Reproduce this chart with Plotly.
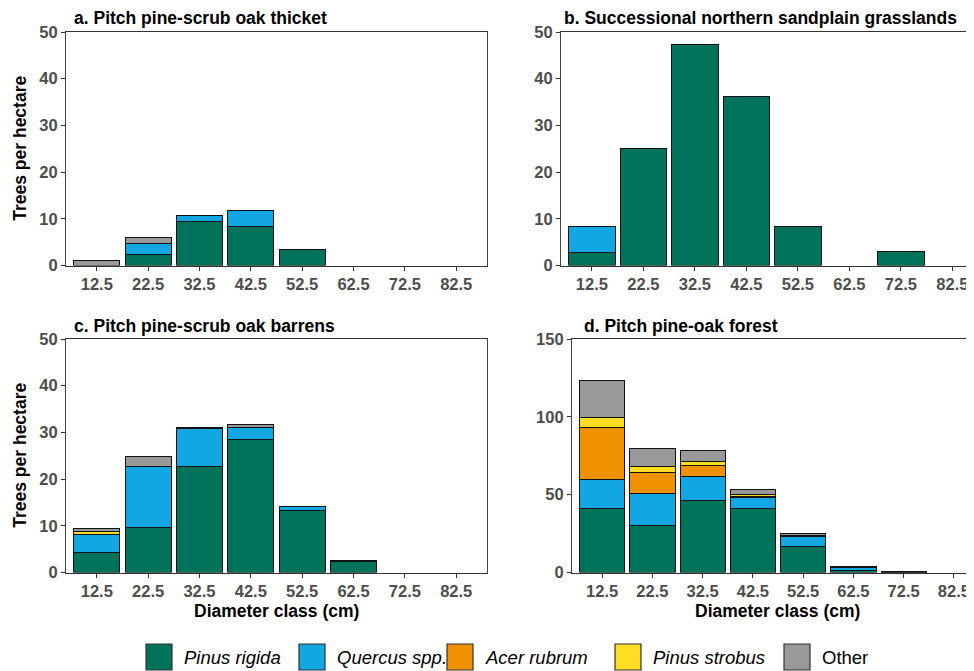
import plotly.graph_objects as go

# ---------------- data ----------------
diameter_classes = ["12.5", "22.5", "32.5", "42.5", "52.5", "62.5", "72.5", "82.5"]
species = ["Pinus rigida", "Quercus spp.", "Acer rubrum", "Pinus strobus", "Other"]
species_labels = ["<i>Pinus rigida</i>", "<i>Quercus spp.</i>", "<i>Acer rubrum</i>",
                  "<i>Pinus strobus</i>", "Other"]
species_colors = ["#00735A", "#12A6E2", "#F09100", "#FFDD22", "#999999"]

panel_titles = ["a. Pitch pine-scrub oak thicket",
                "b. Successional northern sandplain grasslands",
                "c. Pitch pine-scrub oak barrens",
                "d. Pitch pine-oak forest"]

# panel a
a_pinus_rigida = [None, 2.3, 9.5, 8.3, 3.5, None, None, None]
a_quercus = [None, 2.4, 1.2, 3.5, None, None, None, None]
a_acer = [None] * 8
a_strobus = [None] * 8
a_other = [1.0, 1.2, None, None, None, None, None, None]

# panel b
b_pinus_rigida = [2.8, 25.0, 47.3, 36.2, 8.4, None, 2.9, None]
b_quercus = [5.6, None, None, None, None, None, None, None]
b_acer = [None] * 8
b_strobus = [None] * 8
b_other = [None] * 8

# panel c
c_pinus_rigida = [4.2, 9.6, 22.8, 28.4, 13.3, 2.4, None, None]
c_quercus = [4.0, 13.1, 8.0, 2.6, 0.8, 0.2, None, None]
c_acer = [None] * 8
c_strobus = [0.6, None, None, None, None, None, None, None]
c_other = [0.7, 2.1, 0.3, 0.6, None, None, None, None]

# panel d
d_pinus_rigida = [41.2, 30.5, 46.1, 41.2, 16.7, 1.3, 0.3, None]
d_quercus = [18.7, 20.4, 15.7, 6.8, 6.5, 1.7, None, None]
d_acer = [33.2, 13.5, 7.1, 1.1, 0.5, None, None, None]
d_strobus = [6.7, 4.0, 2.6, 0.9, 0.3, None, None, None]
d_other = [23.6, 11.0, 6.8, 3.4, 0.9, 1.0, 0.4, None]

panels = [
    [a_pinus_rigida, a_quercus, a_acer, a_strobus, a_other],
    [b_pinus_rigida, b_quercus, b_acer, b_strobus, b_other],
    [c_pinus_rigida, c_quercus, c_acer, c_strobus, c_other],
    [d_pinus_rigida, d_quercus, d_acer, d_strobus, d_other],
]
y_max = [50, 50, 50, 150]
y_ticks = [[0, 10, 20, 30, 40, 50]] * 3 + [[0, 50, 100, 150]]

# ---------------- figure ----------------
PAGE_W, PAGE_H = 974, 671
OFF = 8  # default page body margin
W, H = PAGE_W - OFF, PAGE_H - OFF
FONT = "Liberation Sans, Arial, sans-serif"
x_idx = list(range(len(diameter_classes)))


def px(x):
    return (x - OFF) / W


def py(y):
    return 1 - (y - OFF) / H


fig = go.Figure()

# panel geometry in page pixels: (left, right, top, bottom, x_range_end)
geom = [
    (66, 487, 32, 265.5, 7.6),
    (561, 974, 32, 265.5, 7.42),
    (66, 487, 339, 572.5, 7.6),
    (572, 974, 339, 572.5, 7.40),
]

for p, series in enumerate(panels):
    xa = "x" if p == 0 else f"x{p+1}"
    ya = "y" if p == 0 else f"y{p+1}"
    for s, vals in enumerate(series):
        if all(v is None for v in vals):
            continue
        fig.add_trace(go.Bar(
            x=x_idx, y=vals, name=species[s], xaxis=xa, yaxis=ya,
            marker=dict(color=species_colors[s], line=dict(color="#111111", width=1)),
            showlegend=False,
        ))

TICKFONT = dict(family=FONT, size=16.5, color="#4D4D4D", weight="bold")
layout = dict(
    width=W, height=H, barmode="stack", bargap=0.1,
    margin=dict(l=0, r=0, t=0, b=0, autoexpand=False),
    paper_bgcolor="white", plot_bgcolor="white",
    font=dict(family=FONT), template="none", showlegend=False,
)
for p, (l, r, t, b, xend) in enumerate(geom):
    k = "" if p == 0 else str(p + 1)
    right_box = p in (0, 2)
    layout[f"xaxis{k}"] = dict(
        domain=[px(l), min(px(r), 1)], anchor=f"y{k}", range=[-0.6, xend],
        tickmode="array", tickvals=x_idx, ticktext=diameter_classes,
        showline=True, linecolor="#333333", linewidth=1.2, mirror=True,
        ticks="outside", ticklen=4, tickcolor="#333333", showgrid=False, zeroline=False,
        tickfont=TICKFONT, automargin=False,
    )
    layout[f"yaxis{k}"] = dict(
        domain=[py(b), py(t)], anchor=f"x{k}", range=[0, y_max[p]],
        tickmode="array", tickvals=y_ticks[p],
        showline=True, linecolor="#444444", linewidth=1.2, mirror=right_box,
        ticks="outside", ticklen=4, tickcolor="#333333", showgrid=False, zeroline=False,
        tickfont=TICKFONT, automargin=False,
    )
fig.update_layout(**layout)

BOLD = dict(family=FONT, size=17.5, color="black", weight="bold")
annotations = []
title_pos = [(72, 18), (562, 18), (72, 326), (582, 326)]
for (tx, ty), txt in zip(title_pos, panel_titles):
    annotations.append(dict(text=txt, xref="paper", yref="paper", x=px(tx), y=py(ty),
                            xanchor="left", yanchor="middle", showarrow=False, font=BOLD))
# y-axis titles
for (l, r, t, b, _) in (geom[0], geom[2]):
    annotations.append(dict(text="Trees per hectare", xref="paper", yref="paper",
                            x=px(20), y=py((t + b) / 2), textangle=-90,
                            xanchor="center", yanchor="middle", showarrow=False, font=BOLD))
# x-axis titles
for cx in (276.5, 777):
    annotations.append(dict(text="Diameter class (cm)", xref="paper", yref="paper",
                            x=px(cx), y=py(611), xanchor="center", yanchor="middle",
                            showarrow=False, font=BOLD))

# legend (custom, large swatches)
legend_x = [146, 299, 447, 615, 784]
shapes = []
for lx, col, lab in zip(legend_x, species_colors, species_labels):
    shapes.append(dict(type="rect", xref="paper", yref="paper",
                       x0=px(lx), x1=px(lx + 26), y0=py(670), y1=py(644),
                       fillcolor=col, line=dict(color="#333333", width=1.2)))
    annotations.append(dict(text=lab, xref="paper", yref="paper", x=px(lx + 36),
                            y=py(657), xanchor="left", yanchor="middle", showarrow=False,
                            font=dict(family=FONT, size=18.5, color="black")))

fig.update_layout(annotations=annotations, shapes=shapes)
fig.write_html("out.html")
